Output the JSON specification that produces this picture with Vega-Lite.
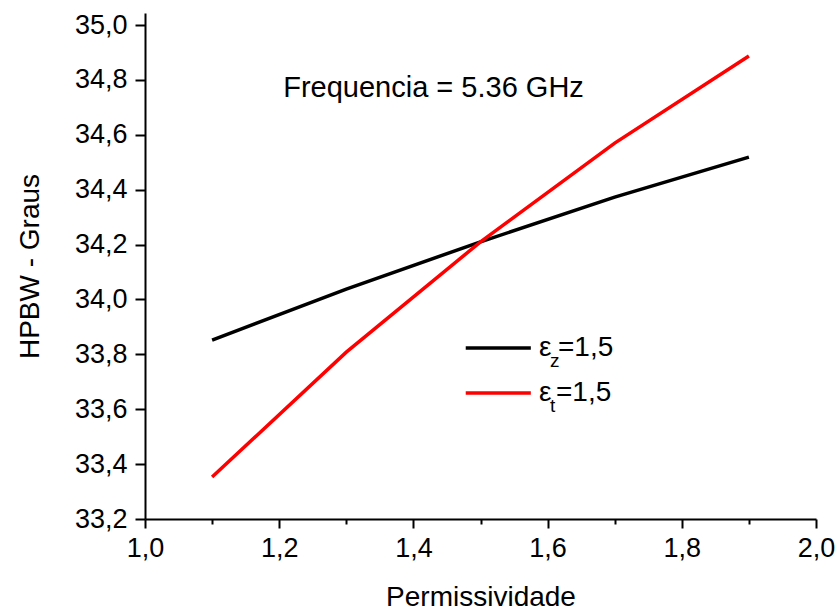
{
  "$schema": "https://vega.github.io/schema/vega-lite/v6.json",
  "width": 671,
  "height": 506,
  "autosize": {"type": "none"},
  "padding": {"left": 145, "top": 13, "right": 22, "bottom": 94},
  "background": "white",
  "config": {
    "view": {"stroke": null},
    "font": "Liberation Sans",
    "axis": {"grid": false, "domainColor": "black", "domainWidth": 2, "tickColor": "black", "tickWidth": 2, "labelColor": "black", "titleColor": "black", "labelFontSize": 27, "titleFontSize": 28, "titleFontWeight": "normal", "labelFont": "Liberation Sans", "titleFont": "Liberation Sans"}
  },
  "datasets": {
    "series": [
      {"perm": 1.1, "hpbw": 33.852, "serie": "ez"},
      {"perm": 1.3, "hpbw": 34.038, "serie": "ez"},
      {"perm": 1.5, "hpbw": 34.21, "serie": "ez"},
      {"perm": 1.7, "hpbw": 34.373, "serie": "ez"},
      {"perm": 1.9, "hpbw": 34.519, "serie": "ez"},
      {"perm": 1.1, "hpbw": 33.353, "serie": "et"},
      {"perm": 1.3, "hpbw": 33.808, "serie": "et"},
      {"perm": 1.5, "hpbw": 34.21, "serie": "et"},
      {"perm": 1.7, "hpbw": 34.57, "serie": "et"},
      {"perm": 1.9, "hpbw": 34.887, "serie": "et"}
    ],
    "legend": [
      {"x1": 1.478, "x2": 1.575, "y": 33.823, "ysub": 33.775, "xe": 1.587, "xs": 1.6036, "xr": 1.6155, "serie": "ez", "sub": "z", "rest": "=1,5"},
      {"x1": 1.478, "x2": 1.575, "y": 33.659, "ysub": 33.611, "xe": 1.587, "xs": 1.6036, "xr": 1.6125, "serie": "et", "sub": "t", "rest": "=1,5"}
    ],
    "note": [
      {"x": 1.43, "y": 34.77, "label": "Frequencia = 5.36 GHz"}
    ]
  },
  "layer": [
    {
      "data": {"name": "series"},
      "mark": {"type": "line", "strokeWidth": 3.5},
      "encoding": {
        "x": {
          "field": "perm", "type": "quantitative",
          "scale": {"domain": [1.0, 2.0], "nice": false, "zero": false},
          "axis": {
            "title": "Permissividade",
            "values": [1.0, 1.1, 1.2, 1.3, 1.4, 1.5, 1.6, 1.7, 1.8, 1.9, 2.0],
            "tickSize": {"condition": {"test": "round(datum.value*10)%2==0", "value": 9}, "value": 5},
            "labelExpr": "round(datum.value*10)%2==0 ? replace(format(datum.value,'.1f'),'.',',') : ''",
            "labelPadding": 7,
            "titlePadding": 22,
            "labelFlush": false
          }
        },
        "y": {
          "field": "hpbw", "type": "quantitative",
          "scale": {"domain": [33.2, 35.044], "nice": false, "zero": false},
          "axis": {
            "title": "HPBW - Graus",
            "values": [33.2, 33.3, 33.4, 33.5, 33.6, 33.7, 33.8, 33.9, 34.0, 34.1, 34.2, 34.3, 34.4, 34.5, 34.6, 34.7, 34.8, 34.9, 35.0],
            "tickSize": {"condition": {"test": "round(datum.value*10)%2==0", "value": 10}, "value": 5},
            "labelExpr": "round(datum.value*10)%2==0 ? replace(format(datum.value,'.1f'),'.',',') : ''",
            "labelPadding": 8,
            "titlePadding": 30,
            "labelFlush": false
          }
        },
        "color": {
          "field": "serie", "type": "nominal",
          "scale": {"domain": ["ez", "et"], "range": ["black", "#ff0000"]},
          "legend": null
        }
      }
    },
    {
      "data": {"name": "legend"},
      "mark": {"type": "rule", "strokeWidth": 3.5},
      "encoding": {
        "x": {"field": "x1", "type": "quantitative"},
        "x2": {"field": "x2"},
        "y": {"field": "y", "type": "quantitative"},
        "color": {"field": "serie", "type": "nominal", "legend": null}
      }
    },
    {
      "data": {"name": "legend"},
      "mark": {"type": "text", "align": "left", "baseline": "middle", "fontSize": 28, "font": "Liberation Sans", "color": "black"},
      "encoding": {
        "x": {"field": "xe", "type": "quantitative"},
        "y": {"field": "y", "type": "quantitative"},
        "text": {"value": "ε"}
      }
    },
    {
      "data": {"name": "legend"},
      "mark": {"type": "text", "align": "left", "baseline": "middle", "fontSize": 19, "font": "Liberation Sans", "color": "black"},
      "encoding": {
        "x": {"field": "xs", "type": "quantitative"},
        "y": {"field": "ysub", "type": "quantitative"},
        "text": {"field": "sub"}
      }
    },
    {
      "data": {"name": "legend"},
      "mark": {"type": "text", "align": "left", "baseline": "middle", "fontSize": 28, "font": "Liberation Sans", "color": "black"},
      "encoding": {
        "x": {"field": "xr", "type": "quantitative"},
        "y": {"field": "y", "type": "quantitative"},
        "text": {"field": "rest"}
      }
    },
    {
      "data": {"name": "note"},
      "mark": {"type": "text", "align": "center", "baseline": "middle", "fontSize": 29, "font": "Liberation Sans", "color": "black"},
      "encoding": {
        "x": {"field": "x", "type": "quantitative"},
        "y": {"field": "y", "type": "quantitative"},
        "text": {"field": "label"}
      }
    }
  ]
}
